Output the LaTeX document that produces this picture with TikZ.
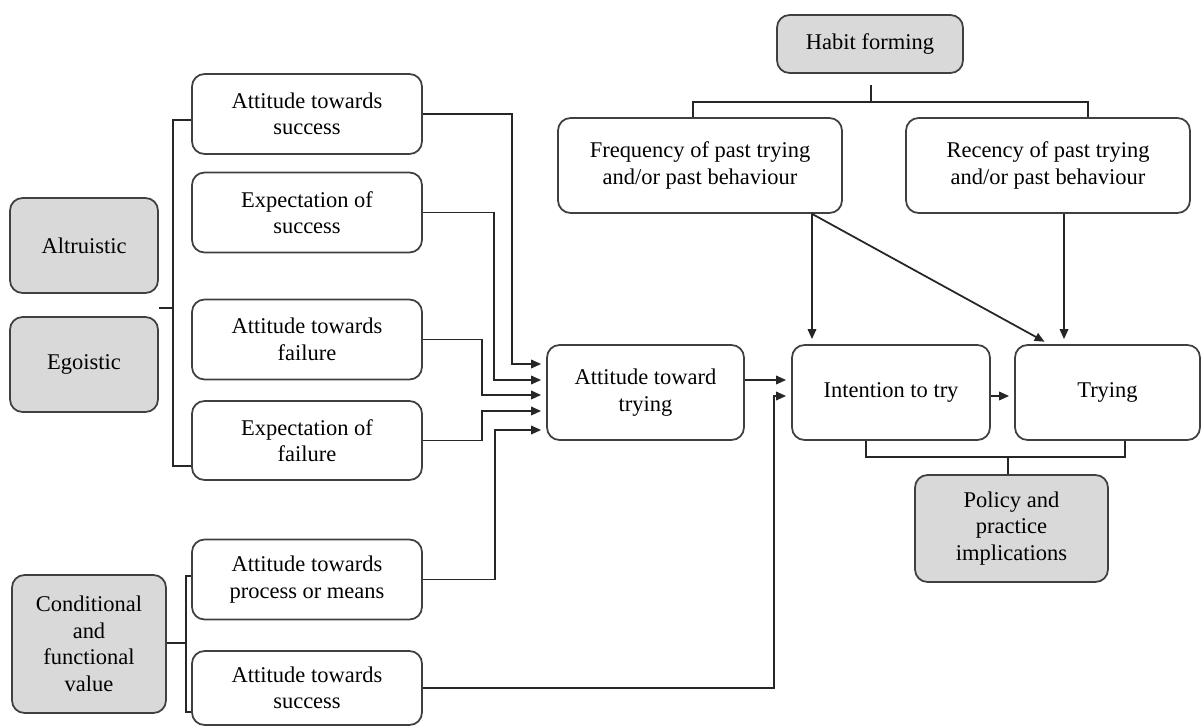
\documentclass[tikz,border=0pt]{standalone}
\usepackage{fontspec}
\setmainfont{Liberation Serif}
\usetikzlibrary{arrows.meta}

\begin{document}
\begin{tikzpicture}[x=0.02cm,y=-0.02cm,
  font=\fontsize{12.8}{15.1}\selectfont,
  box/.style={draw=black!75,line width=1pt,rounded corners=0.25cm,align=center,fill=white,inner sep=2pt},
  grey/.style={box,fill=black!15},
  lbox/.style={box,minimum width=4.6cm,minimum height=1.6cm},
  wire/.style={draw=black!85,line width=1pt},
  arr/.style={wire,-{Triangle[length=0.2cm,width=0.17cm]},shorten >=0.1cm}]
\useasboundingbox (0,0) rectangle (1203,726);

\node[grey,minimum width=3.72cm,minimum height=1.16cm] (habit) at (870,44) {Habit forming};
\node[box,minimum width=5.68cm,minimum height=1.9cm] (freq) at (700,165.5) {Frequency of past trying\\and/or past behaviour};
\node[box,minimum width=5.68cm,minimum height=1.9cm] (rec) at (1048,165.5) {Recency of past trying\\and/or past behaviour};

\node[grey,minimum width=2.96cm,minimum height=1.9cm] (alt) at (84,245.5) {Altruistic};
\node[grey,minimum width=2.96cm,minimum height=1.9cm] (ego) at (84,364.5) {Egoistic};
\node[grey,minimum width=3.08cm,minimum height=2.76cm] (cond) at (89,644) {Conditional\\and\\functional\\value};

\node[lbox] (as1) at (307,114) {Attitude towards\\success};
\node[lbox] (es) at (307,212.5) {Expectation of\\success};
\node[lbox] (af) at (307,339.5) {Attitude towards\\failure};
\node[lbox,minimum height=1.58cm] (ef) at (307,440.5) {Expectation of\\failure};
\node[lbox] (ap) at (307,579.5) {Attitude towards\\process or means};
\node[lbox,minimum height=1.48cm] (as2) at (307,688) {Attitude towards\\success};

\node[box,minimum width=3.94cm,minimum height=1.9cm] (att) at (645.5,392.5) {Attitude toward\\trying};
\node[box,minimum width=3.96cm,minimum height=1.9cm] (int) at (891,392.5) {Intention to try};
\node[box,minimum width=3.7cm,minimum height=1.9cm] (try) at (1107.5,392.5) {Trying};
\node[grey,minimum width=3.86cm,minimum height=2.14cm] (pol) at (1011.5,528.5) {Policy and\\practice\\implications};

% brackets
\draw[wire] (freq.north -| 693,0) -- (693,102) -- (1088,102) -- (rec.north -| 1088,0);
\draw[wire] (871,102) -- (871,85);
\draw[wire] (as1.west |- 0,120) -- (173,120) -- (173,466) -- (ef.west |- 0,466);
\draw[wire] (173,308) -- (alt.east |- 0,308);
\draw[wire] (ap.west |- 0,576) -- (186,576) -- (186,712) -- (as2.west |- 0,712);
\draw[wire] (186,643) -- (cond.east |- 0,643);
\draw[wire] (int.south -| 866,0) -- (866,457) -- (1125,457) -- (try.south -| 1125,0);
\draw[wire] (1008,457) -- (pol.north -| 1008,0);

% arrows into attitude toward trying
\draw[arr] (as1.east) -| (512,364) -- (att.west |- 0,364);
\draw[arr] (es.east) -| (494,380) -- (att.west |- 0,380);
\draw[arr] (af.east) -| (482,395) -- (att.west |- 0,395);
\draw[arr] (ef.east) -| (482,411) -- (att.west |- 0,411);
\draw[arr] (ap.east) -| (495,430) -- (att.west |- 0,430);

\draw[arr] (att.east |- 0,380) -- (int.west |- 0,380);
\draw[arr] (as2.east) -| (774,396) -- (int.west |- 0,396);
\draw[arr] (int.east |- 0,396) -- (try.west |- 0,396);
\draw[arr] (freq.south -| 812,0) -- (int.north -| 812,0);
\draw[arr] (freq.south -| 812,0) -- (try.north -| 1049,0);
\draw[arr] (rec.south -| 1064,0) -- (try.north -| 1064,0);
\end{tikzpicture}
\end{document}
